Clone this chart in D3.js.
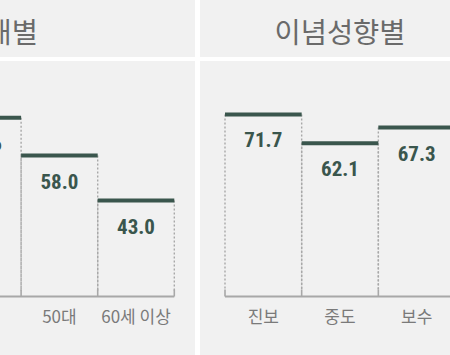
<!DOCTYPE html>
<html><head><meta charset="utf-8">
<script src="https://cdn.jsdelivr.net/npm/d3@7"></script>
<style>
html,body{margin:0;padding:0;background:#f1f1f1;overflow:hidden;}
svg{display:block;}
</style></head>
<body>
<script>
// ---- data ----
const ageCategories = ["40대", "50대", "60세 이상"];
const ageValues = [70.6, 58.0, 43.0];
const ideoCategories = ["진보", "중도", "보수"];
const ideoValues = [71.7, 62.1, 67.3];
const titles = ["연령대별", "이념성향별"];

const W = 450, H = 355;
const svg = d3.select("body").append("svg").attr("width", W).attr("height", H);
svg.append("rect").attr("width", W).attr("height", H).attr("fill", "#f1f1f1");

const baseY = 296.5;
const y = d3.scaleLinear().domain([11, 72]).range([baseY, baseY - 61 * 3]);

const lineColor = "#3a564d";
const gridColor = "#a8a8a8";

function panel(cats, vals, range, title, titleX, titleAnchor) {
  const x = d3.scaleBand().domain(cats).range(range).padding(0);
  const g = svg.append("g");
  const data = cats.map((c, i) => ({c, v: vals[i]}));

  // dotted side lines
  data.forEach(d => {
    [x(d.c), x(d.c) + x.bandwidth()].forEach(px => {
      g.append("line")
        .attr("x1", px).attr("x2", px)
        .attr("y1", y(d.v)).attr("y2", baseY - 6)
        .attr("stroke", gridColor).attr("stroke-width", 1.4)
        .attr("stroke-dasharray", "2,2");
    });
  });

  // baseline
  g.append("line")
    .attr("x1", range[0]).attr("x2", range[1])
    .attr("y1", baseY).attr("y2", baseY)
    .attr("stroke", gridColor).attr("stroke-width", 2);

  // boundary ticks
  const bounds = cats.map(c => x(c)).concat([range[1]]);
  bounds.forEach(px => {
    g.append("line")
      .attr("x1", px).attr("x2", px)
      .attr("y1", baseY - 7).attr("y2", baseY)
      .attr("stroke", gridColor).attr("stroke-width", 1.6);
  });

  // bar top lines
  g.selectAll(".top").data(data).enter().append("line")
    .attr("x1", d => x(d.c)).attr("x2", d => x(d.c) + x.bandwidth())
    .attr("y1", d => y(d.v)).attr("y2", d => y(d.v))
    .attr("stroke", lineColor).attr("stroke-width", 4);

  // value labels
  g.selectAll(".val").data(data).enter().append("text")
    .attr("x", d => x(d.c) + x.bandwidth() / 2)
    .attr("y", d => y(d.v) + 33)
    .attr("text-anchor", "middle")
    .attr("font-family", "'Liberation Sans Narrow', 'Roboto Condensed', Roboto, sans-serif")
    .attr("font-weight", "bold")
    .attr("font-size", 21)
    .attr("fill", lineColor)
    .text(d => d.v.toFixed(1));

  // category axis labels
  const ax = g.append("g").attr("transform", `translate(0,${baseY})`)
    .call(d3.axisBottom(x).tickSize(0).tickPadding(14));
  ax.select(".domain").remove();
  ax.selectAll("text")
    .attr("font-family", "'Noto Sans CJK KR', sans-serif")
    .attr("font-size", 17)
    .attr("fill", "#7a7a7a");

  // title
  svg.append("text")
    .attr("x", titleX).attr("y", 30)
    .attr("dominant-baseline", "central")
    .attr("text-anchor", titleAnchor)
    .attr("font-family", "'Noto Sans CJK KR', sans-serif")
    .attr("font-size", 28.5)
    .attr("fill", "#6a6a6a")
    .text(title);
}

panel(ageCategories, ageValues, [-55.5, 174.3], titles[0], 38, "end");
panel(ideoCategories, ideoValues, [225, 455], titles[1], 340, "middle");

// white separators
svg.append("rect").attr("x", 0).attr("y", 57).attr("width", W).attr("height", 4).attr("fill", "#ffffff");
svg.append("rect").attr("x", 195).attr("y", 0).attr("width", 5).attr("height", H).attr("fill", "#ffffff");
</script>
</body></html>
